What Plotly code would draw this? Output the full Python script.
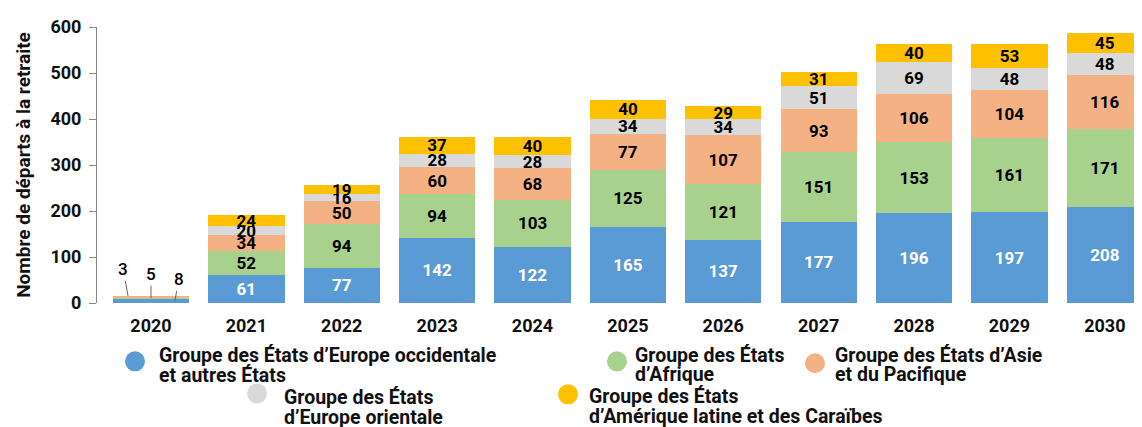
import plotly.graph_objects as go

years = ["2020", "2021", "2022", "2023", "2024", "2025", "2026", "2027", "2028", "2029", "2030"]

weog = [8, 61, 77, 142, 122, 165, 137, 177, 196, 197, 208]
africa = [5, 52, 94, 94, 103, 125, 121, 151, 153, 161, 171]
asia_pac = [3, 34, 50, 60, 68, 77, 107, 93, 106, 104, 116]
east_eur = [0, 20, 16, 28, 28, 34, 34, 51, 69, 48, 48]
latam = [0, 24, 19, 37, 40, 40, 29, 31, 40, 53, 45]

series = [
    (["Groupe des États d’Europe occidentale", "et autres États"], weog, "#5B9BD5", "white"),
    (["Groupe des États", "d’Afrique"], africa, "#A9D18E", "black"),
    (["Groupe des États d’Asie", "et du Pacifique"], asia_pac, "#F4B183", "black"),
    (["Groupe des États", "d’Europe orientale"], east_eur, "#D9D9D9", "black"),
    (["Groupe des États", "d’Amérique latine et des Caraïbes"], latam, "#FFC000", "black"),
]

FONT = "Roboto"
OFF = 8  # page body margin shifts the figure in the screenshot
W, H = 1142, 427
# plot area wanted on screen: x 97..1142, y 19..303
L, T = 97 - OFF, 19 - OFF
R = W - (1142 - OFF)
B = H - (303 - OFF)
PW, PH = W - L - R, H - T - B


def px(x):
    return (x - OFF - L) / PW


def py(y):
    return (H - B - (y - OFF)) / PH


fig = go.Figure()
for lines, vals, col, tcol in series:
    # 2020 values are too small for inside labels, they get leader lines below
    txt = ["" if i == 0 else str(v) for i, v in enumerate(vals)]
    fig.add_trace(go.Bar(
        x=years, y=vals, name=" ".join(lines), marker=dict(color=col, line=dict(width=0)),
        text=txt, textposition="inside", insidetextanchor="middle", textangle=0,
        textfont=dict(family=FONT, size=17, color=tcol, weight="bold"),
        constraintext="none", showlegend=False,
    ))

# leader-line labels for 2020
small = [(asia_pac[0], -0.24, weog[0] + africa[0] + asia_pac[0] * 0.6, -5, -27),
         (africa[0], 0.0, weog[0] + africa[0] * 0.5, 0, -24),
         (weog[0], 0.25, weog[0] * 0.5, 4, -22)]
for v, xi, yv, ax, ay in small:
    fig.add_annotation(x=xi, y=yv, text=str(v), showarrow=True, arrowhead=0,
                       arrowwidth=1, arrowcolor="#666", ax=ax, ay=ay,
                       font=dict(family=FONT, size=17, color="black", weight=500))

# legend drawn by hand to match the staggered layout
# (circle x, circle y, text x, centre of first line) in screen pixels
legend_pos = [
    (135, 363, 157, 356),
    (617, 363, 633, 356),
    (815, 365, 833, 356),
    (257, 396, 282, 400),
    (568, 397, 587, 399),
]
for (lines, vals, col, tcol), (cx, cy, tx, ty) in zip(series, legend_pos):
    fig.add_shape(type="circle", xref="paper", yref="paper", xsizemode="pixel",
                  ysizemode="pixel", xanchor=px(cx), yanchor=py(cy),
                  x0=-10, x1=10, y0=-10, y1=10, fillcolor=col, line=dict(width=0))
    for k, ln in enumerate(lines):
        fig.add_annotation(xref="paper", yref="paper", x=px(tx), y=py(ty + 21 * k),
                           text=ln, showarrow=False, xanchor="left", yanchor="middle",
                           align="left",
                           font=dict(family=FONT, size=19.5, color="#111", weight="bold"))

fig.update_layout(
    barmode="stack", bargap=0.2,
    width=W, height=H,
    margin=dict(l=L, r=R, t=T, b=B),
    plot_bgcolor="white", paper_bgcolor="white",
    uniformtext=dict(minsize=17, mode="show"),
    xaxis=dict(type="category", range=[-0.566, 10.39], showgrid=False, showline=False,
               ticks="", ticklabelstandoff=10,
               tickfont=dict(family=FONT, size=18, color="#111", weight="bold")),
    yaxis=dict(range=[0, 600], dtick=100, showgrid=False, zeroline=False,
               showline=True, linecolor="#888", linewidth=1, ticks="outside",
               ticklen=7, tickcolor="#888", ticklabelstandoff=4,
               tickfont=dict(family=FONT, size=18, color="#111", weight="bold"),
               title=dict(text="Nombre de départs à la retraite", standoff=14,
                          font=dict(family=FONT, size=19, color="#111", weight="bold"))),
)

fig.write_html("out.html")
